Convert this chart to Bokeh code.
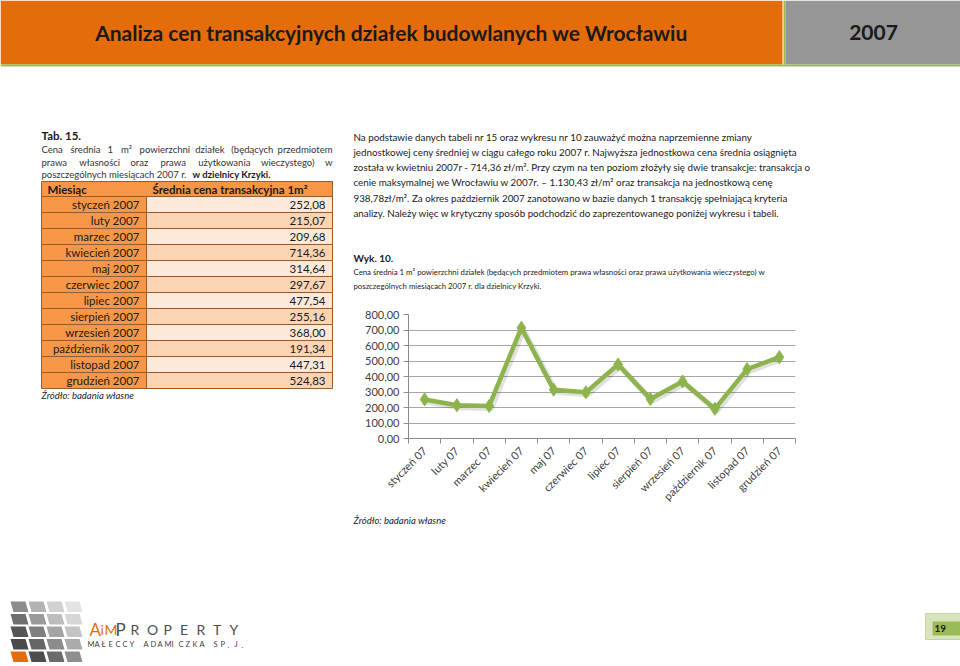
import math
from bokeh.plotting import figure
from bokeh.models import Range1d, FixedTicker, CustomJSTickFormatter
from bokeh.layouts import column, row
from bokeh.core.properties import value
from bokeh.embed import file_html
from bokeh.resources import INLINE

# ---------------- data ----------------
months_chart = ["styczeń 07", "luty 07", "marzec 07", "kwiecień 07", "maj 07", "czerwiec 07",
                "lipiec 07", "sierpień 07", "wrzesień 07", "październik 07", "listopad 07", "grudzień 07"]
months_table = ["styczeń 2007", "luty 2007", "marzec 2007", "kwiecień 2007", "maj 2007", "czerwiec 2007",
                "lipiec 2007", "sierpień 2007", "wrzesień 2007", "październik 2007", "listopad 2007",
                "grudzień 2007"]
prices = [252.08, 215.07, 209.68, 714.36, 314.64, 297.67, 477.54, 255.16, 368.00, 191.34, 447.31, 524.83]
y_ticks = [0, 100, 200, 300, 400, 500, 600, 700, 800]

title_text = "Analiza cen transakcyjnych działek budowlanych we Wrocławiu"
year_text = "2007"
tab_title = "Tab. 15."
tab_caption = ["Cena średnia 1 m² powierzchni działek (będących przedmiotem",
               "prawa własności oraz prawa użytkowania wieczystego) w"]
tab_caption_last = "poszczególnych miesiącach 2007 r."
tab_caption_bold = "w dzielnicy Krzyki."
tab_headers = ["Miesiąc", "Średnia cena transakcyjna 1m²"]
source_text = "Źródło: badania własne"
paragraph = [
    "Na podstawie danych tabeli nr 15 oraz wykresu nr 10 zauważyć można naprzemienne zmiany",
    "jednostkowej ceny średniej w ciągu całego roku 2007 r. Najwyższa jednostkowa cena średnia osiągnięta",
    "została w kwietniu 2007r - 714,36 zł/m². Przy czym na ten poziom złożyły się dwie transakcje: transakcja o",
    "cenie maksymalnej we Wrocławiu w 2007r. – 1.130,43 zł/m² oraz transakcja na jednostkową cenę",
    "938,78zł/m². Za okres październik 2007 zanotowano w bazie danych 1 transakcję spełniającą kryteria",
    "analizy.  Należy więc w krytyczny sposób podchodzić do zaprezentowanego poniżej wykresu i tabeli.",
]
wyk_title = "Wyk. 10."
wyk_caption = ["Cena średnia 1 m² powierzchni działek (będących przedmiotem prawa własności oraz prawa użytkowania wieczystego) w",
               "poszczególnych miesiącach 2007 r. dla dzielnicy Krzyki."]
logo_a = "AiM"
logo_b = "PROPERTY"
logo_c = "MAŁECCY ADAMICZKA SP.J."
page_no = "19"

FONT = "Lato"
ORANGE = "#E46C0A"
TAB_ORANGE = "#F79646"
GREEN = "#8DB44C"


# ---------------- helpers ----------------
def deco(x0, x1, y0, y1):
    p = figure(width=x1 - x0, height=y1 - y0, x_range=Range1d(x0, x1), y_range=Range1d(y1, y0),
               x_axis_type=None, y_axis_type=None, toolbar_location=None, output_backend="svg",
               min_border=0, outline_line_color=None, background_fill_color="white",
               border_fill_color="white", frame_align=False)
    p.grid.visible = False
    return p


def txt(p, x, y, s, size, style="normal", color="#1a1a1a", align="left", baseline="middle"):
    p.text(x=[x], y=[y], text=[s], text_font=value(FONT), text_font_size=value(f"{size}px"),
           text_font_style=value(style), text_color=color, text_align=value(align),
           text_baseline=value(baseline))


NARROW = {"i": .23, "l": .23, "j": .23, "ł": .26, "t": .33, "f": .32, "r": .35, ".": .22, ",": .22,
          ":": .22, ";": .22, "(": .3, ")": .3, "-": .33, "/": .36, "²": .33, "m": .8, "w": .74,
          "s": .41, "c": .45, "z": .43, "ż": .43, "ź": .43, "ś": .41, "ć": .45, "y": .48, "k": .48,
          "v": .48, "x": .47, "–": .5}


def est_width(word, size):
    w = 0.0
    for ch in word:
        if ch in NARROW:
            f = NARROW[ch]
        elif ch.isdigit():
            f = .58
        elif ch.isupper():
            f = .66
        else:
            f = .52
        w += f
    return w * size


def justified(p, x0, x1, y, line, size, color="#1a1a1a"):
    words = line.split()
    widths = [est_width(w, size) for w in words]
    gap = (x1 - x0 - sum(widths)) / (len(words) - 1)
    gap = max(gap, 0.2 * size)
    xs, cx = [], x0
    for w in widths:
        xs.append(cx)
        cx += w + gap
    p.text(x=xs[:-1], y=[y] * (len(words) - 1), text=words[:-1], text_font=value(FONT),
           text_font_size=value(f"{size}px"), text_color=color, text_align="left",
           text_baseline="middle")
    txt(p, x1, y, words[-1], size, color=color, align="right")


# ---------------- banner ----------------
banner = deco(0, 960, 0, 110)
banner.quad(left=[0], right=[782], top=[0], bottom=[64], fill_color=ORANGE, line_color=None)
banner.quad(left=[783], right=[785], top=[0], bottom=[64], fill_color="#9BBB59", line_color=None)
banner.quad(left=[785], right=[960], top=[0], bottom=[64], fill_color="#969696", line_color=None)
banner.quad(left=[0], right=[960], top=[64], bottom=[66], fill_color="#9BBB59", line_color=None)
txt(banner, 391, 32, title_text, 21, style="bold", align="center")
txt(banner, 873, 32, year_text, 21, style="bold", align="center")

# ---------------- left: table ----------------
left = deco(0, 345, 110, 590)
txt(left, 41, 135, tab_title, 11.5, style="bold")
for i, line in enumerate(tab_caption):
    justified(left, 41, 332, 149 + 12.5 * i, line, 9.5, color="#333333")
txt(left, 41, 174, tab_caption_last, 9.5, color="#333333")
txt(left, 192, 174, tab_caption_bold, 9.5, style="bold", color="#1a1a1a")

tx0, tx1, tx2 = 41, 146, 332
head_top, head_bot, row_h = 181, 196, 16
border = "#9A5B2A"
left.quad(left=[tx0], right=[tx2], top=[head_top], bottom=[head_bot], fill_color=TAB_ORANGE,
          line_color=border, line_width=1)
txt(left, 47, 189, tab_headers[0], 11.5, style="bold")
txt(left, 152, 189, tab_headers[1], 11.5, style="bold")
n = len(months_table)
tops = [head_bot + row_h * i for i in range(n)]
bots = [t + row_h for t in tops]
right_fill = ["#FDE9D9" if i % 2 == 0 else "#FBD4B4" for i in range(n)]
left.quad(left=[tx0] * n, right=[tx1] * n, top=tops, bottom=bots, fill_color=TAB_ORANGE,
          line_color=border, line_width=1)
left.quad(left=[tx1] * n, right=[tx2] * n, top=tops, bottom=bots, fill_color=right_fill,
          line_color=border, line_width=1)
mids = [t + row_h / 2 for t in tops]
left.text(x=[139] * n, y=mids, text=months_table, text_font=value(FONT), text_font_size=value("11.5px"),
          text_color="#1a1a1a", text_align="right", text_baseline="middle")
left.text(x=[325] * n, y=mids, text=[f"{v:.2f}".replace(".", ",") for v in prices], text_font=value(FONT),
          text_font_size=value("11.5px"), text_color="#1a1a1a", text_align="right", text_baseline="middle")
txt(left, 41, 395, source_text, 9.5, style="italic", color="#222222")

# ---------------- right: text ----------------
tfig = deco(345, 960, 110, 300)
tfig.text(x=[353] * len(paragraph), y=[136 + 15.3 * i for i in range(len(paragraph))], text=paragraph,
          text_font=value(FONT), text_font_size=value("9.8px"), text_color="#1a1a1a",
          text_align="left", text_baseline="middle")
txt(tfig, 353, 257, wyk_title, 10, style="bold")
for i, line in enumerate(wyk_caption):
    txt(tfig, 353, 271 + 14.5 * i, line, 7.8, color="#222222")

# ---------------- chart ----------------
xs = list(range(1, len(prices) + 1))
chart = figure(width=615, height=210, x_range=Range1d(0.5, len(prices) + 0.5), y_range=Range1d(0, 800),
               toolbar_location=None, output_backend="svg", min_border_left=63, min_border_right=165,
               min_border_top=14, min_border_bottom=72, outline_line_color=None,
               background_fill_color="white", border_fill_color="white", frame_align=False)
# soft shadow (2px right / 2px down)
dx = 2 * len(prices) / 387.0
dy = 2 * 800 / 124.0
chart.line([x + dx for x in xs], [v - dy for v in prices], line_color="#000000", line_alpha=0.12,
           line_width=6, line_join="round")
chart.line(xs, prices, line_color=GREEN, line_width=4.5, line_join="round")
chart.scatter(xs, prices, marker="diamond", size=13, fill_color=GREEN, line_color=GREEN)

xa = chart.xaxis[0]
xa.ticker = FixedTicker(ticks=xs, minor_ticks=[i + 0.5 for i in range(len(prices) + 1)])
xa.major_label_overrides = {i: m for i, m in zip(xs, months_chart)}
xa.major_label_orientation = math.pi / 4
xa.major_tick_line_color = None
xa.major_tick_out = 0
xa.major_tick_in = 0
xa.minor_tick_line_color = "#8C8C8C"
xa.minor_tick_out = 5
xa.minor_tick_in = 0
xa.axis_line_color = "#8C8C8C"
xa.major_label_text_font = FONT
xa.major_label_text_font_size = "11px"
xa.major_label_text_color = "#404040"
xa.major_label_standoff = 5

ya = chart.yaxis[0]
ya.ticker = FixedTicker(ticks=y_ticks)
ya.formatter = CustomJSTickFormatter(code="return tick.toFixed(2).replace('.', ',');")
ya.major_tick_out = 5
ya.major_tick_in = 0
ya.minor_tick_line_color = None
ya.major_tick_line_color = "#8C8C8C"
ya.axis_line_color = "#8C8C8C"
ya.major_label_text_font = FONT
ya.major_label_text_font_size = "11px"
ya.major_label_text_color = "#404040"
ya.major_label_standoff = 4
chart.xgrid.visible = False
chart.ygrid.grid_line_color = "#A6A6A6"

src = deco(345, 960, 510, 590)
txt(src, 353, 520, source_text, 9.5, style="italic", color="#222222")

# ---------------- footer ----------------
foot = deco(0, 960, 590, 666)
logo_colors = [
    ["#8C8C8C", "#B3B3B3", "#D0D0D0", "#E3E3E3"],
    ["#6E6E6E", "#9A9A9A", "#BDBDBD", "#D6D6D6"],
    ["#555555", "#7F7F7F", "#A5A5A5", "#C4C4C4"],
    ["#4A4A4A", "#666666", "#8C8C8C", "#ABABAB"],
    [ORANGE, "#4D4D4D", "#6B6B6B", "#8F8F8F"],
]
pxs, pys, pcs = [], [], []
for r, rowc in enumerate(logo_colors):
    yt = 601 + 12.5 * r
    for c, col in enumerate(rowc):
        xl = 10 + 18 * c
        pxs.append([xl, xl + 15, xl + 18, xl + 3])
        pys.append([yt, yt, yt + 10.5, yt + 10.5])
        pcs.append(col)
foot.patches(pxs, pys, fill_color=pcs, line_color=None)
txt(foot, 89, 629, logo_a[0], 17, color=ORANGE, baseline="alphabetic")
txt(foot, 100, 629, logo_a[1], 14, color=ORANGE, baseline="alphabetic")
txt(foot, 104, 629, logo_a[2], 14, color=ORANGE, baseline="alphabetic")
txt(foot, 115, 629, logo_b[0], 17, color="#4D4D4D", baseline="alphabetic")
for k, ch in enumerate(logo_b[1:]):
    txt(foot, 130 + 16.5 * k, 629, ch, 14, color="#4D4D4D", baseline="alphabetic")
for k, ch in enumerate(logo_c):
    txt(foot, 87 + 7.0 * k, 644, ch, 7.5, color="#404040", baseline="alphabetic")

foot.quad(left=[925], right=[960], top=[613], bottom=[639], fill_color="#D7E4BD", line_color="#C3D69B")
foot.quad(left=[932], right=[960], top=[621], bottom=[635], fill_color="#9BBB59", line_color=None)
txt(foot, 934, 628, page_no, 10, style="bold", color="#1a1a1a")

right_col = column(tfig, chart, src, spacing=0)
mid = row(left, right_col, spacing=0)
page = column(banner, mid, foot, spacing=0)

open("out.html", "w").write(file_html(page, INLINE))
